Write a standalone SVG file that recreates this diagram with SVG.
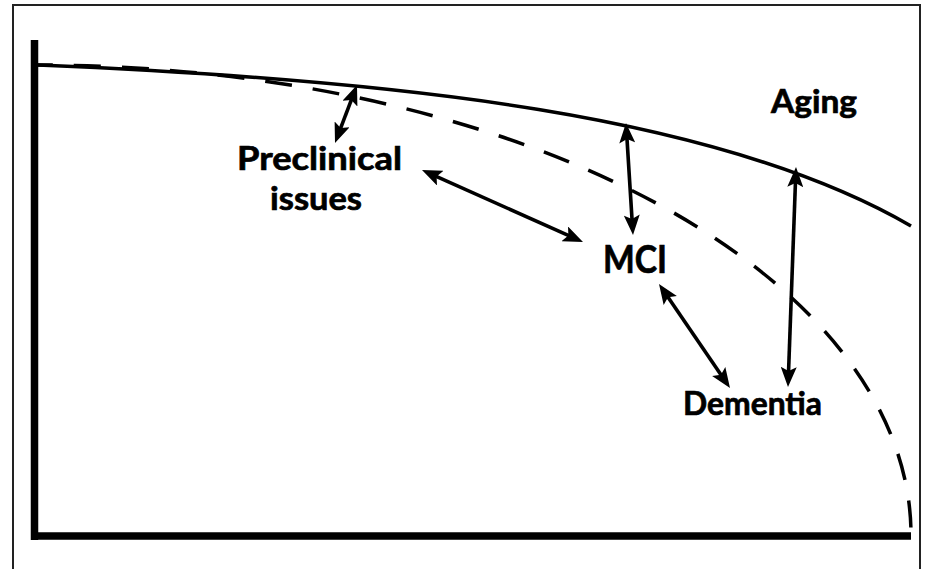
<svg xmlns="http://www.w3.org/2000/svg" width="926" height="569" viewBox="0 0 926 569">
<style>
.lbl{font-family:Lato,"Open Sans","Liberation Sans",sans-serif;font-weight:bold;fill:#000;stroke:#000;stroke-width:0.7}
.arr{stroke:#000;stroke-width:3.6;fill:none;marker-start:url(#ah);marker-end:url(#ah)}
.curve{stroke:#000;stroke-width:3.5;fill:none}
.axis{stroke:#000;stroke-width:7.5;fill:none}
</style>
<defs>
<marker id="ah" viewBox="0 0 21 16" refX="11" refY="8" markerWidth="21" markerHeight="16" markerUnits="userSpaceOnUse" orient="auto-start-reverse">
<path d="M21,8 L1,0 L5,8 L1,16 Z" fill="#000"/>
</marker>
</defs>
<rect x="0" y="0" width="926" height="569" fill="#fff"/>
<rect id="frame" x="13" y="5" width="907" height="600" fill="none" stroke="#222" stroke-width="2"/>
<g id="axes">
<line class="axis" x1="34.5" y1="40" x2="34.5" y2="540"/>
<line class="axis" x1="31" y1="536" x2="911" y2="536"/>
</g>
<g id="aging-curve">
<path class="curve" d="M38,65 C400,80 720,115 911,226"/>
</g>
<g id="disease-curve">
<path class="curve" d="M38,65 A873,470 0 0 1 911,535" stroke-dasharray="27 21" stroke-dashoffset="12"/>
</g>
<g id="connectors">
<line class="arr" x1="353.45" y1="94.35" x2="338.55" y2="133.65"/>
<line class="arr" x1="431.13" y1="174.08" x2="573.87" y2="237.92"/>
<line class="arr" x1="626.62" y1="132.98" x2="632.38" y2="225.02"/>
<line class="arr" x1="795.64" y1="176.99" x2="788.36" y2="377.01"/>
<line class="arr" x1="664.64" y1="292.26" x2="724.36" y2="379.74"/>
</g>
<g id="aging"><text class="lbl" x="771" y="113" font-size="32" textLength="86" lengthAdjust="spacingAndGlyphs">Aging</text></g>
<g id="preclinical"><text class="lbl" x="237" y="170" font-size="33" textLength="165" lengthAdjust="spacingAndGlyphs">Preclinical</text><text class="lbl" x="270" y="210" font-size="33" textLength="92" lengthAdjust="spacingAndGlyphs">issues</text></g>
<g id="mci"><text class="lbl" x="603" y="273" font-size="39" textLength="64" lengthAdjust="spacingAndGlyphs">MCI</text></g>
<g id="dementia"><text class="lbl" x="683" y="415" font-size="32" textLength="139" lengthAdjust="spacingAndGlyphs">Dementia</text></g>
</svg>
